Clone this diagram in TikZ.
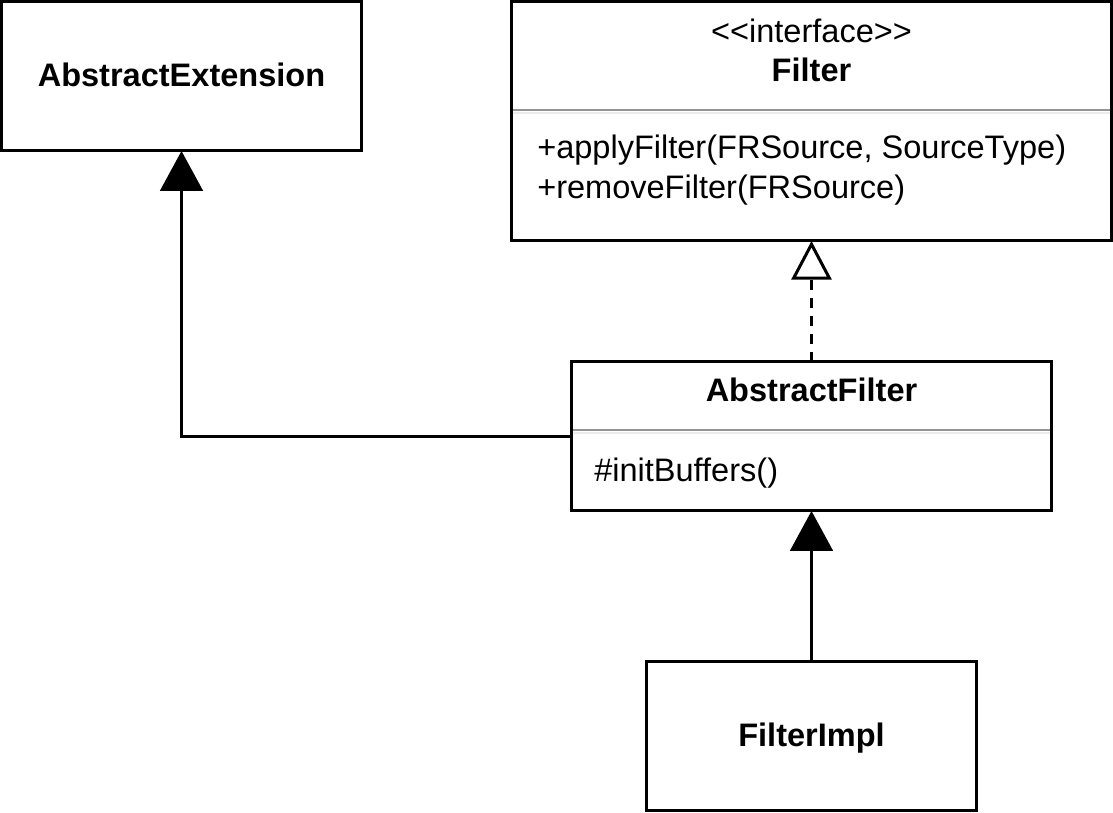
\documentclass[tikz,border=0pt]{standalone}
\usepackage{fontspec}
\setmainfont{Liberation Sans}
\usetikzlibrary{arrows.meta}
\begin{document}
\begin{tikzpicture}[x=0.75pt,y=-0.75pt,
  umlbox/.style={draw=black, line width=2.25pt, fill=white, rectangle, inner sep=0pt, outer sep=0pt},
  lbl/.style={inner sep=0pt, anchor=base, font=\fontsize{24.4}{29}\selectfont},
  lblb/.style={lbl, font=\fontsize{24.4}{29}\selectfont\bfseries},
  meth/.style={lbl, anchor=base west},
  sep/.style={draw=black!42, line width=2.2pt},
  sepl/.style={draw=black!8, line width=1.5pt},
  conn/.style={draw=black, line width=2.25pt}
]
\useasboundingbox (0,0) rectangle (1113,813);
% boxes
\node[umlbox, minimum width=270pt, minimum height=112.1pt] (ae) at (181.5,76.25) {};
\node[umlbox, minimum width=450pt, minimum height=179.6pt] (fi) at (811.5,121.25) {};
\node[umlbox, minimum width=360pt, minimum height=112.1pt] (af) at (811.5,436.25) {};
\node[umlbox, minimum width=247.5pt, minimum height=112.1pt] (im) at (811.5,736.25) {};
% separators
\coordinate (fs1) at (513,110);
\coordinate (fs2) at (1110,110);
\draw[sep] (fs1) -- (fs2);
\coordinate (fl1) at (513,112.7);
\coordinate (fl2) at (1110,112.7);
\draw[sepl] (fl1) -- (fl2);
\coordinate (as1) at (573,430);
\coordinate (as2) at (1050,430);
\draw[sep] (as1) -- (as2);
\coordinate (al1) at (573,432.7);
\coordinate (al2) at (1050,432.7);
\draw[sepl] (al1) -- (al2);
% texts
\node[lblb] (aet) at (181.5,86.7) {AbstractExtension};
\node[lbl] (fst) at (811.5,42.7) {<\kern0pt<interface>\kern0pt>};
\node[lblb] (fit) at (811.5,82) {Filter};
\node[meth] (fm1) at (537,159) {+applyFilter(FRSource, SourceType)};
\node[meth] (fm2) at (537,199) {+removeFilter(FRSource)};
\node[lblb] (aft) at (811.5,401.7) {AbstractFilter};
\node[meth] (afm) at (594,481.7) {\#initBuffers()};
\node[lblb] (imt) at (811.5,746.7) {FilterImpl};
% connectors
\draw[conn, -{Triangle[length=30pt,width=32pt]}] (af.west) -| (ae.south);
\draw[conn, dash pattern=on 7.5pt off 6pt, -{Triangle[open,length=29pt,width=30pt,fill=white]}] (af.north) -- (fi.south);
\draw[conn, -{Triangle[length=30pt,width=32pt]}] (im.north) -- (af.south);
\end{tikzpicture}
\end{document}
